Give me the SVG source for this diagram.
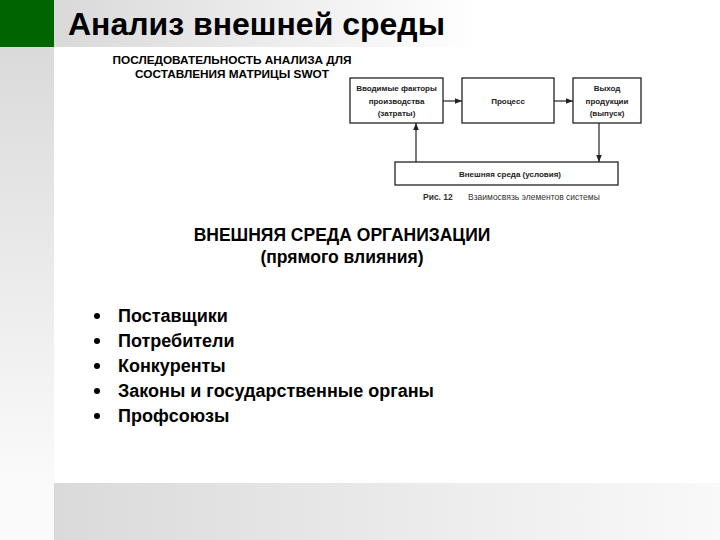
<svg xmlns="http://www.w3.org/2000/svg" width="720" height="540" viewBox="0 0 720 540">
<defs>
<linearGradient id="gTitle" x1="54" y1="0" x2="480" y2="0" gradientUnits="userSpaceOnUse"><stop offset="0" stop-color="#d9d9d9"/><stop offset="1" stop-color="#ffffff"/></linearGradient>
<linearGradient id="gLeft" x1="0" y1="47" x2="0" y2="480" gradientUnits="userSpaceOnUse"><stop offset="0" stop-color="#dadada"/><stop offset="1" stop-color="#fafafa"/></linearGradient>
<linearGradient id="gBottom" x1="54" y1="0" x2="720" y2="0" gradientUnits="userSpaceOnUse"><stop offset="0" stop-color="#dadada"/><stop offset="1" stop-color="#f9f9f9"/></linearGradient>
<marker id="arr" viewBox="0 0 10 10" refX="10" refY="5" markerWidth="6" markerHeight="6" orient="auto"><path d="M0,1 L10,5 L0,9 z" fill="#222"/></marker>
<style>
.t{font-family:"Liberation Sans",Arial,sans-serif;font-weight:bold;fill:#000}
.box{fill:#fff;stroke:#222;stroke-width:1.3}
.bx{font-family:"Liberation Sans",Arial,sans-serif;font-weight:bold;font-size:8px;fill:#222;text-anchor:middle}
.cap{font-family:"Liberation Sans",Arial,sans-serif;font-size:8.5px;fill:#333}
.ln{stroke:#222;stroke-width:1.2;fill:none}
.li{font-family:"Liberation Sans",Arial,sans-serif;font-weight:bold;font-size:18px;fill:#000}
</style>
</defs>
<rect width="720" height="540" fill="#fff"/>
<rect x="54" y="0" width="666" height="47" fill="url(#gTitle)"/>
<rect x="0" y="0" width="54" height="47" fill="#006400"/>
<rect x="0" y="47" width="54" height="493" fill="url(#gLeft)"/>
<rect x="54" y="483" width="666" height="57" fill="url(#gBottom)"/>
<text class="t" x="68" y="35" font-size="32">Анализ внешней среды</text>
<g text-anchor="middle" font-size="11.8">
<text class="t" x="232" y="64">ПОСЛЕДОВАТЕЛЬНОСТЬ АНАЛИЗА ДЛЯ</text>
<text class="t" x="232" y="78">СОСТАВЛЕНИЯ МАТРИЦЫ SWOT</text>
</g>
<g id="n-input"><rect class="box" x="350" y="78" width="93" height="45"/>
<text class="bx" x="396.5" y="91">Вводимые факторы</text>
<text class="bx" x="396.5" y="104">производства</text>
<text class="bx" x="396.5" y="116">(затраты)</text></g>
<g id="n-process"><rect class="box" x="462" y="78" width="92" height="45"/>
<text class="bx" x="508" y="104">Процесс</text></g>
<g id="n-output"><rect class="box" x="573" y="78" width="68" height="45"/>
<text class="bx" x="607" y="91">Выход</text>
<text class="bx" x="607" y="104">продукции</text>
<text class="bx" x="607" y="116">(выпуск)</text></g>
<g id="n-env"><rect class="box" x="395" y="162" width="223" height="23"/>
<text class="bx" x="510" y="177">Внешняя среда (условия)</text></g>
<g id="connectors">
<line class="ln" x1="443" y1="101" x2="462" y2="101" marker-end="url(#arr)"/>
<line class="ln" x1="554" y1="101" x2="573" y2="101" marker-end="url(#arr)"/>
<line class="ln" x1="599" y1="123" x2="599" y2="162" marker-end="url(#arr)"/>
<line class="ln" x1="416" y1="162" x2="416" y2="123" marker-end="url(#arr)"/>
</g>
<text class="cap" x="423" y="200" font-weight="bold">Рис. 12</text>
<text class="cap" x="468" y="200">Взаимосвязь элементов системы</text>
<g text-anchor="middle" font-size="17.5">
<text class="t" x="342" y="241">ВНЕШНЯЯ СРЕДА ОРГАНИЗАЦИИ</text>
<text class="t" x="342" y="263">(прямого влияния)</text>
</g>
<g>
<circle cx="97" cy="316" r="3"/><text class="li" x="118" y="322">Поставщики</text>
<circle cx="97" cy="341" r="3"/><text class="li" x="118" y="347">Потребители</text>
<circle cx="97" cy="366" r="3"/><text class="li" x="118" y="372">Конкуренты</text>
<circle cx="97" cy="391" r="3"/><text class="li" x="118" y="397">Законы и государственные органы</text>
<circle cx="97" cy="416" r="3"/><text class="li" x="118" y="422">Профсоюзы</text>
</g>
</svg>
